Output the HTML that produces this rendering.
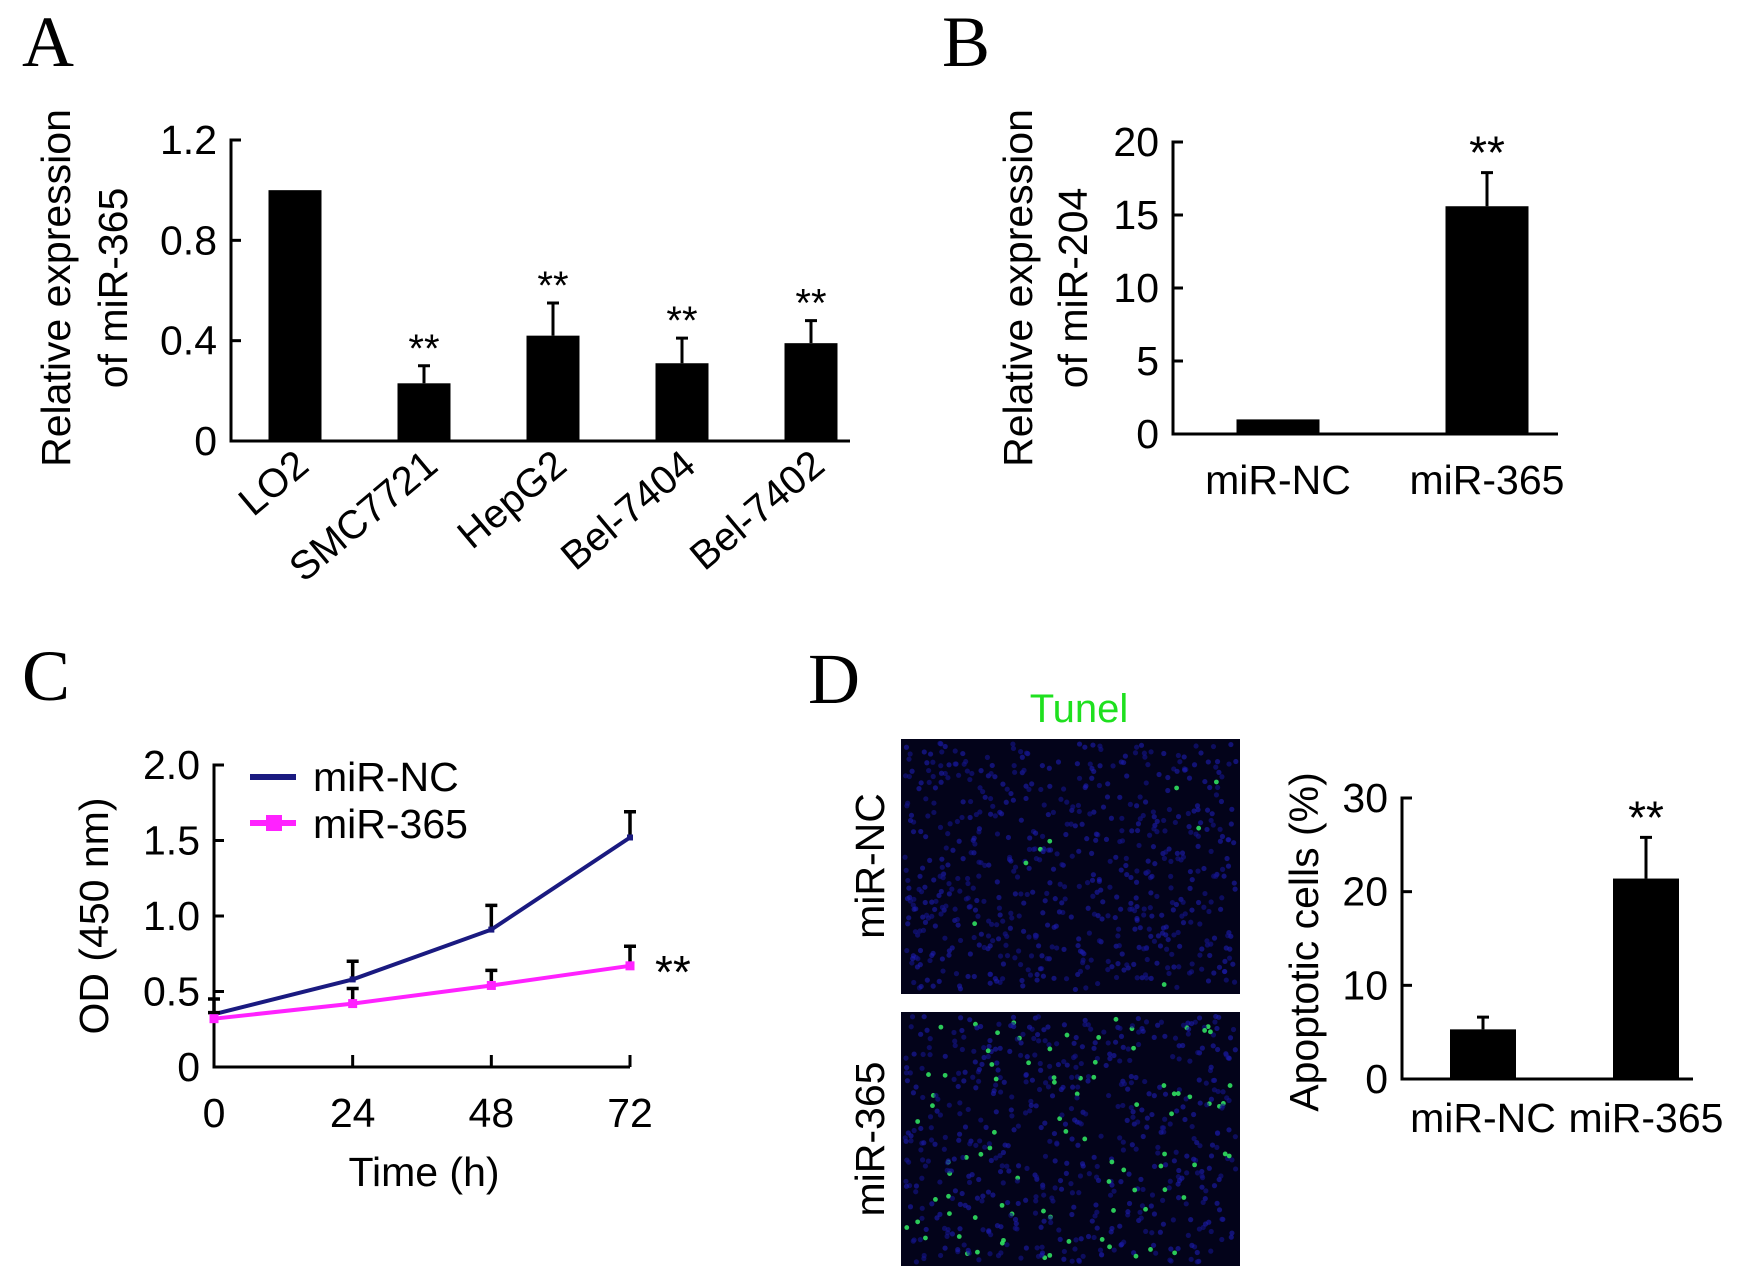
<!DOCTYPE html>
<html><head><meta charset="utf-8"><style>
html,body{margin:0;padding:0;background:#fff;}
svg{display:block;font-family:"Liberation Sans",sans-serif;}
</style></head><body>
<svg id="fig" width="1763" height="1282" viewBox="0 0 1763 1282" xmlns="http://www.w3.org/2000/svg">
<text x="22" y="66" font-family="Liberation Serif" font-size="72">A</text>
<text x="942" y="66" font-family="Liberation Serif" font-size="72">B</text>
<text x="22" y="700" font-family="Liberation Serif" font-size="72">C</text>
<text x="808" y="703" font-family="Liberation Serif" font-size="72">D</text>
<g id="gA"></g>
<g id="gB"></g>
<g id="gC"></g>
<g id="gD"></g>
<text x="1079" y="722" text-anchor="middle" font-size="40" fill="#1fe01f">Tunel</text>
<g id="imgs"></g>
<text transform="translate(884,866) rotate(-90)" text-anchor="middle" font-size="41">miR-NC</text>
<text transform="translate(884,1139) rotate(-90)" text-anchor="middle" font-size="41">miR-365</text>
</svg>
<script>
// Panel A data
const aCats=["LO2","SMC7721","HepG2","Bel-7404","Bel-7402"];
const aVals=[1.0,0.23,0.42,0.31,0.39];
const aErr=[0,0.30,0.55,0.41,0.48];
const aSig=["","**","**","**","**"];
const aTicks=[0,0.4,0.8,1.2];
// Panel B data
const bCats=["miR-NC","miR-365"];
const bVals=[1.0,15.6];
const bErr=[1.0,17.9];
const bSig=["","**"];
const bTicks=[0,5,10,15,20];
// Panel C data
const cTimes=[0,24,48,72];
const cNC=[0.35,0.58,0.91,1.52];
const cNCErr=[0.45,0.70,1.07,1.69];
const c365=[0.32,0.42,0.54,0.67];
const c365Err=[0.36,0.52,0.64,0.80];
const cYTicks=[0,0.5,1.0,1.5,2.0];
const cYLabels=["0","0.5","1.0","1.5","2.0"];
// Panel D data
const dCats=["miR-NC","miR-365"];
const dVals=[5.3,21.4];
const dErr=[6.6,25.8];
const dSig=["","**"];
const dTicks=[0,10,20,30];

const NS="http://www.w3.org/2000/svg";
function mk(parent,tag,attrs,txt){const e=document.createElementNS(NS,tag);for(const k in attrs)e.setAttribute(k,attrs[k]);if(txt!==undefined)e.textContent=txt;parent.appendChild(e);return e;}

function barChart(g,o){
  const y=v=>o.y0-(v-o.min)/(o.max-o.min)*(o.y0-o.y1);
  const ax=mk(g,'path',{d:`M${o.x0+10},${o.y1}H${o.x0}V${o.y0}H${o.xEnd}`,fill:'none',stroke:'#000','stroke-width':3});
  
  o.ticks.forEach((t,i)=>{
    const l=mk(g,'line',{x1:o.x0,x2:o.x0+10,y1:y(t),y2:y(t),stroke:'#000','stroke-width':3});
    
    const tx=mk(g,'text',{x:o.x0-14,y:y(t)+14,'text-anchor':'end','font-size':41},o.tickLabels?o.tickLabels[i]:String(t));
    
  });
  o.vals.forEach((v,i)=>{
    const cx=o.cx0+i*o.step;
    if(o.err[i]>v){
      const e=mk(g,'path',{d:`M${cx},${y(v)}V${y(o.err[i])}M${cx-6},${y(o.err[i])}H${cx+6}`,stroke:'#000','stroke-width':3,fill:'none'});
      
    }
    const r=mk(g,'rect',{x:cx-o.bw/2,y:y(v),width:o.bw,height:o.y0-y(v),fill:'#000'});
    
    if(o.sig[i]){
      const s=mk(g,'text',{x:cx,y:y(Math.max(o.err[i],v))-o.sigOff,'text-anchor':'middle','font-size':o.sigSize},o.sig[i]);
      
    }
    let lab;
    if(o.rotate){
      lab=mk(g,'text',{transform:`translate(${cx+16},${o.y0+28}) rotate(-40)`,'text-anchor':'end','font-size':40},o.cats[i]);
    } else {
      lab=mk(g,'text',{x:cx,y:o.labY,'text-anchor':'middle','font-size':41},o.cats[i]);
    }
    
  });
  o.titles.forEach((t,i)=>{
    const tt=mk(g,'text',{transform:`translate(${o.titleX[i]},${o.titleY}) rotate(-90)`,'text-anchor':'middle','font-size':41},t);
    
  });
}
barChart(document.getElementById('gA'),{x0:231,y0:441,y1:140,xEnd:850,min:0,max:1.2,ticks:aTicks,tickLabels:["0","0.4","0.8","1.2"],
  vals:aVals,err:aErr,sig:aSig,cats:aCats,cx0:295,step:129,bw:53,sigOff:4,sigSize:40,rotate:true,
  titles:["Relative expression","of miR-365"],titleX:[70,127],titleY:288});
barChart(document.getElementById('gB'),{x0:1173,y0:434,y1:142,xEnd:1558,min:0,max:20,ticks:bTicks,
  vals:bVals,err:bErr,sig:bSig,cats:bCats,cx0:1278,step:209,bw:83,sigOff:4,sigSize:46,rotate:false,labY:494,
  titles:["Relative expression","of miR-204"],titleX:[1032,1087],titleY:288});
barChart(document.getElementById('gD'),{x0:1402,y0:1079,y1:798,xEnd:1693,min:0,max:30,ticks:dTicks,
  vals:dVals,err:dErr,sig:dSig,cats:dCats,cx0:1483,step:163,bw:66,sigOff:4,sigSize:46,rotate:false,labY:1132,
  titles:["Apoptotic cells (%)"],titleX:[1318],titleY:942});

// Panel C line chart
(function(){
  const g=document.getElementById('gC');
  const x0=214,y0=1067,y1=765,xEnd=630;
  const x=t=>x0+t/72*(xEnd-x0);
  const y=v=>y0-v/2.0*(y0-y1);
  const ax=mk(g,'path',{d:`M${x0+10},${y1}H${x0}V${y0}H${xEnd}`,fill:'none',stroke:'#000','stroke-width':3});
  
  cYTicks.forEach((t,i)=>{
    const l=mk(g,'line',{x1:x0,x2:x0+10,y1:y(t),y2:y(t),stroke:'#000','stroke-width':3});
    
    const tx=mk(g,'text',{x:x0-14,y:y(t)+14,'text-anchor':'end','font-size':41},cYLabels[i]);
    
  });
  cTimes.forEach(t=>{
    const l=mk(g,'line',{x1:x(t),x2:x(t),y1:y0,y2:y0-12,stroke:'#000','stroke-width':3});
    
    const tx=mk(g,'text',{x:x(t),y:1127,'text-anchor':'middle','font-size':41},String(t));
    
  });
  function series(vals,errs,color,name,mw){
    errs.forEach((e,i)=>{
      const p=mk(g,'path',{d:`M${x(cTimes[i])},${y(vals[i])}V${y(e)}M${x(cTimes[i])-6},${y(e)}H${x(cTimes[i])+6}`,stroke:'#000','stroke-width':3.5,fill:'none'});
      
    });
    const pl=mk(g,'polyline',{points:vals.map((v,i)=>x(cTimes[i])+','+y(v)).join(' '),fill:'none',stroke:color,'stroke-width':4});
    
    vals.forEach((v,i)=>{
      const m=mk(g,'rect',{x:x(cTimes[i])-mw/2,y:y(v)-mw/2,width:mw,height:mw,fill:color});
      
    });
  }
  series(cNC,cNCErr,'#1a1a80','mir-nc',6);
  series(c365,c365Err,'#ff22ff','mir-365',9);
  const s=mk(g,'text',{x:655,y:988,'font-size':46},'**');
  
  const l1=mk(g,'line',{x1:250,x2:296,y1:777,y2:777,stroke:'#1a1a80','stroke-width':6});
  
  const t1=mk(g,'text',{x:313,y:791,'font-size':41},'miR-NC');
  
  const l2=mk(g,'line',{x1:250,x2:296,y1:823,y2:823,stroke:'#ff22ff','stroke-width':6});
  
  const m2=mk(g,'rect',{x:266,y:815,width:16,height:16,fill:'#ff22ff'});
  
  const t2=mk(g,'text',{x:313,y:838,'font-size':41},'miR-365');
  
  const xt=mk(g,'text',{x:424,y:1186,'text-anchor':'middle','font-size':41},'Time (h)');
  
  const yt=mk(g,'text',{transform:'translate(108,916) rotate(-90)','text-anchor':'middle','font-size':41},'OD (450 nm)');
  
})();

// Microscopy images (decorative texture)
(function(){
  const g=document.getElementById('imgs');
  let seed=12345;
  const rnd=()=>{seed=(seed*1103515245+12345)%2147483648;return seed/2147483648;};
  const boxes=[[901,739,339,255,'top',0.01],[901,1012,339,254,'bottom',0.15]];
  boxes.forEach(b=>{
    const r=mk(g,'rect',{x:b[0],y:b[1],width:b[2],height:b[3],fill:'#03031a'});
    
    for(let i=0;i<650;i++){
      const cx=b[0]+4+rnd()*(b[2]-8),cy=b[1]+4+rnd()*(b[3]-8);
      const green=rnd()<b[5];
      const c=mk(g,'circle',{cx:cx,cy:cy,r:green?2.4:2.6,fill:green?'#30e060':(rnd()<0.5?'#1c1cb0':'#14148c'),opacity:green?0.9:0.6});
      
    }
  });
})();
</script>
</body></html>
